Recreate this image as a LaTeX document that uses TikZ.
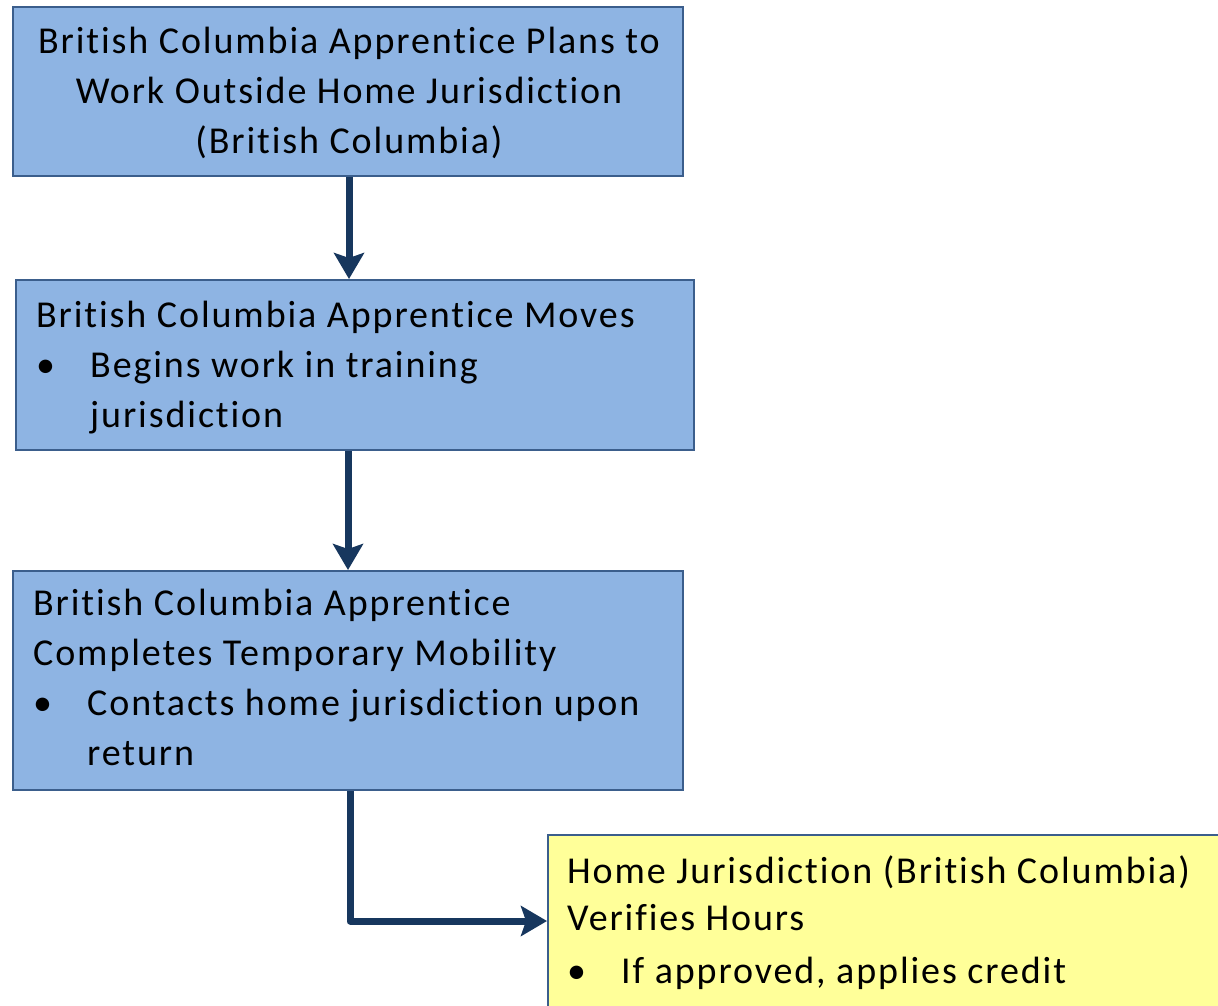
\documentclass[tikz,border=0pt]{standalone}
\usepackage{fontspec}
\setmainfont{Carlito}[Ligatures=NoCommon, LetterSpace=5]
\usetikzlibrary{arrows.meta}
\definecolor{boxblue}{HTML}{8EB4E3}
\definecolor{boxedge}{HTML}{3B5E8C}
\definecolor{boxyellow}{HTML}{FFFF99}
\definecolor{arrowblue}{HTML}{17375E}
\newcommand{\bul}{\makebox[54pt][l]{\textbullet}}
\newcommand{\ind}{\hspace*{54pt}}
\begin{document}
\begin{tikzpicture}[x=1pt,y=-1pt,
  box/.style={draw=boxedge, line width=2pt, fill=boxblue, inner sep=0pt},
  ybox/.style={draw=boxedge, line width=2pt, fill=boxyellow, inner sep=0pt},
  txt/.style={anchor=base west, inner sep=0pt, text=black, font=\fontsize{38}{50}\selectfont},
  ctxt/.style={anchor=base, inner sep=0pt, text=black, font=\fontsize{38}{50}\selectfont},
  conn/.style={draw=arrowblue, line width=7pt, line join=round,
    -{Stealth[length=26pt,width=30pt,inset=5pt]}}
]
\useasboundingbox (0,0) rectangle (1218,1005);
\clip (0,0) rectangle (1218,1005);
\fill[white] (0,0) rectangle (1218,1005);
% boxes
\node[box, minimum width=670pt, minimum height=169pt] (b1) at (348,91.5) {};
\node[box, minimum width=678pt, minimum height=170pt] (b2) at (355,365) {};
\node[box, minimum width=670pt, minimum height=219pt] (b3) at (348,680.5) {};
\node[ybox, minimum width=680pt, minimum height=190pt] (b4) at (888,930) {};
% texts
\node[ctxt] (t1) at (349,53) {\parbox[t]{660pt}{\centering
  British Columbia Apprentice Plans to\\Work Outside Home Jurisdiction\\(British Columbia)}};
\node[txt] (t2) at (36,327) {\parbox[t]{650pt}{\raggedright
  British Columbia Apprentice Moves\\\bul Begins work in training\\\ind jurisdiction}};
\node[txt] (t3) at (33,615) {\parbox[t]{650pt}{\raggedright
  British Columbia Apprentice\\Completes Temporary Mobility\\\bul Contacts home jurisdiction upon\\\ind return}};
\node[txt] (t4) at (567,883) {\parbox[t]{650pt}{\raggedright
  Home Jurisdiction (British Columbia)\\[-3pt]Verifies Hours\\[3pt]\bul If approved, applies credit}};
% connectors
\draw[conn] (b1.south -| 349,0) -- (b2.north -| 349,0);
\draw[conn] (b2.south -| 348,0) -- (b3.north -| 348,0);
\draw[conn] (b3.south -| 350,0) |- (b4.west |- 0,921);
\end{tikzpicture}
\end{document}
